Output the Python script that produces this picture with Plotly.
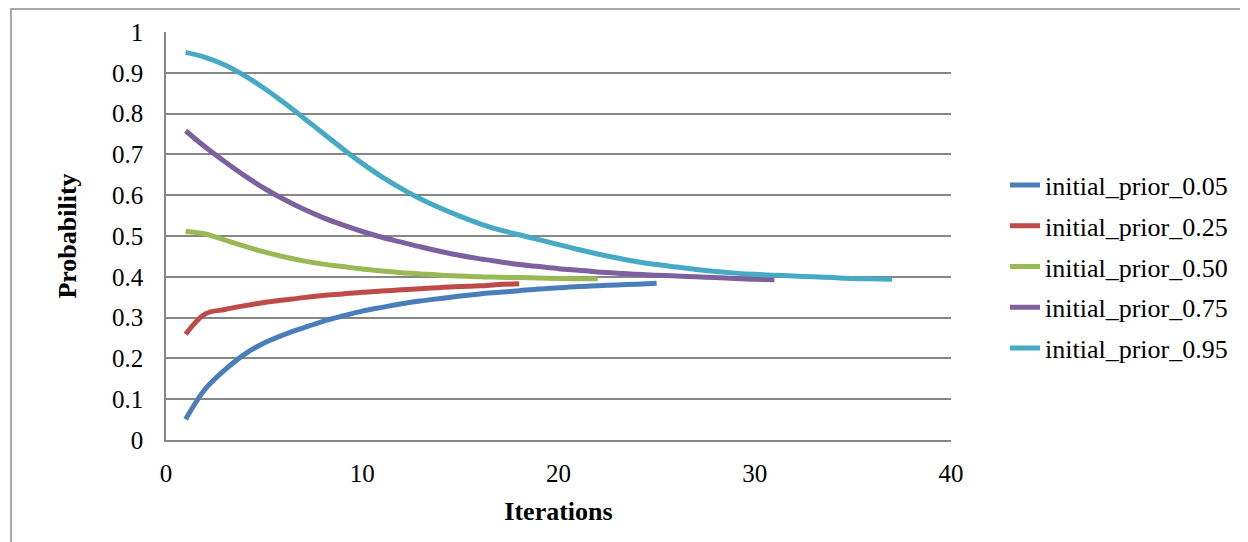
import plotly.graph_objects as go

series_names = ["initial_prior_0.05", "initial_prior_0.25", "initial_prior_0.50",
                "initial_prior_0.75", "initial_prior_0.95"]

prior_005 = [0.051, 0.125, 0.172, 0.210, 0.238, 0.258, 0.275, 0.291, 0.304, 0.316,
             0.325, 0.334, 0.341, 0.347, 0.353, 0.358, 0.362, 0.366, 0.370, 0.373,
             0.376, 0.378, 0.380, 0.382, 0.384]
prior_025 = [0.259, 0.309, 0.320, 0.329, 0.337, 0.343, 0.349, 0.354, 0.358, 0.362,
             0.365, 0.368, 0.371, 0.374, 0.376, 0.378, 0.381, 0.383]
prior_050 = [0.511, 0.505, 0.490, 0.475, 0.461, 0.449, 0.439, 0.431, 0.425, 0.419,
             0.414, 0.410, 0.407, 0.404, 0.402, 0.400, 0.399, 0.398, 0.397, 0.396,
             0.395, 0.395]
prior_075 = [0.758, 0.718, 0.682, 0.648, 0.617, 0.590, 0.566, 0.545, 0.527, 0.511,
             0.497, 0.485, 0.473, 0.462, 0.452, 0.444, 0.437, 0.430, 0.425, 0.420,
             0.416, 0.412, 0.409, 0.406, 0.404, 0.402, 0.400, 0.398, 0.396, 0.394,
             0.393]
prior_095 = [0.950, 0.938, 0.919, 0.893, 0.862, 0.827, 0.790, 0.752, 0.714, 0.678,
             0.645, 0.616, 0.590, 0.568, 0.548, 0.530, 0.515, 0.503, 0.491, 0.479,
             0.467, 0.456, 0.446, 0.437, 0.430, 0.424, 0.418, 0.413, 0.409, 0.406,
             0.404, 0.402, 0.400, 0.398, 0.396, 0.395, 0.394]

series_values = [prior_005, prior_025, prior_050, prior_075, prior_095]
colors = ["#4A7EBB", "#BE4B48", "#98B954", "#7D60A0", "#46AAC5"]

x_ticks = [0, 10, 20, 30, 40]
y_ticks = [0, 0.1, 0.2, 0.3, 0.4, 0.5, 0.6, 0.7, 0.8, 0.9, 1]

FONT = "Liberation Serif"
OFF = 8  # page body margin
W, H = 1248 - OFF, 542 - OFF
L, R, T, B = 166 - OFF, 951 - OFF, 32 - OFF, 440 - OFF

fig = go.Figure()
for i, (name, vals, col) in enumerate(zip(series_names, series_values, colors)):
    fig.add_trace(go.Scatter(
        x=list(range(1, len(vals) + 1)), y=vals, name=name, mode="lines",
        line=dict(color=col, width=5, shape="spline", smoothing=1.0),
        legendgroup=f"g{i}",
    ))

def px_x(p):
    return (p - OFF - L) / (R - L)

def px_y(p):
    return (B - (p - OFF)) / (B - T)

fig.update_layout(
    width=W, height=H,
    margin=dict(l=L, r=W - R, t=T, b=H - B, pad=0),
    paper_bgcolor="white", plot_bgcolor="white",
    font=dict(family=FONT, size=25, color="black"),
    showlegend=True,
    legend=dict(
        x=px_x(1005), xanchor="left", y=px_y(267), yanchor="middle",
        font=dict(family=FONT, size=26, color="black"),
        traceorder="grouped", tracegroupgap=4,
        bgcolor="rgba(0,0,0,0)", itemwidth=30,
    ),
    xaxis=dict(
        range=[0, 40], tickvals=x_ticks, showgrid=False, zeroline=False,
        showline=True, linecolor="#868686", linewidth=1.5, ticks="",
        ticklabelstandoff=10,
        tickfont=dict(family=FONT, size=25),
        title=dict(text="<b>Iterations</b>", font=dict(family=FONT, size=26), standoff=16),
    ),
    yaxis=dict(
        range=[0, 1], tickvals=y_ticks, showgrid=True, gridcolor="#868686", gridwidth=1.5,
        zeroline=False, showline=True, linecolor="#868686", linewidth=1.5, ticks="",
        ticklabelstandoff=16,
        tickfont=dict(family=FONT, size=25),
        title=dict(text="<b>Probability</b>", font=dict(family=FONT, size=26), standoff=28),
    ),
    shapes=[dict(
        type="rect", xref="paper", yref="paper",
        x0=px_x(11), x1=px_x(1290), y0=px_y(9), y1=px_y(600),
        line=dict(color="#8c8c8c", width=1.5), fillcolor="rgba(0,0,0,0)", layer="below",
    )],
)

fig.write_html("out.html")
